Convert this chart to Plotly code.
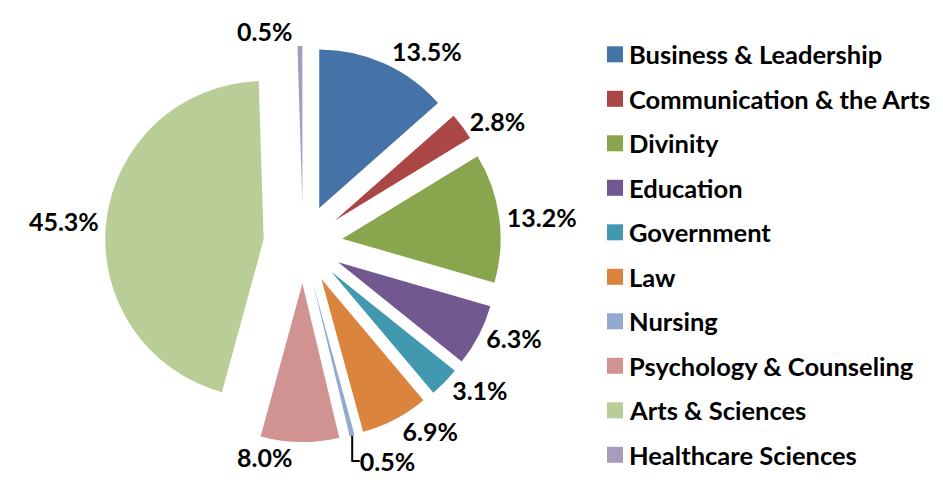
import plotly.graph_objects as go

# school enrollment share (percent)
schools = ["Business & Leadership", "Communication & the Arts", "Divinity", "Education",
           "Government", "Law", "Nursing", "Psychology & Counseling",
           "Arts & Sciences", "Healthcare Sciences"]
shares = [13.5, 2.8, 13.2, 6.3, 3.1, 6.9, 0.5, 8.0, 45.3, 0.5]
colors = ["#4572A7", "#AA4643", "#89A54E", "#71588F", "#4198AF",
          "#DB843D", "#93A9CF", "#D19392", "#B9CD96", "#A99BBD"]

W, H = 943, 487
fontname = "Lato, Calibri, sans-serif"
# the page body has an 8px margin, so figure pixel = screen pixel - 8
OFF = 8
FW, FH = W - OFF, H - OFF

def px(x):
    return (x - OFF) / FW

def py(y):
    return 1 - (y - OFF) / FH

fig = go.Figure()
fig.add_trace(go.Pie(
    labels=schools,
    values=shares,
    sort=False,
    direction="clockwise",
    rotation=0,
    pull=[0.25] * len(shares),
    marker=dict(colors=colors, line=dict(width=0)),
    texttemplate="%{percent:.1%}",
    textposition="outside",
    outsidetextfont=dict(family=fontname, size=25, color="black", weight="bold"),
    domain=dict(x=[px(105), px(501)], y=[py(442), py(46)]),
    showlegend=False,
    hoverinfo="label+percent",
))

# legend drawn by hand: plotly's own legend can't be spaced like the original
# without pushing the margins and shrinking the pie
row0, step = 54.3, 44.5
for i, (name, c) in enumerate(zip(schools, colors)):
    yc = row0 + step * i
    fig.add_shape(type="rect", xref="paper", yref="paper",
                  x0=px(607), x1=px(623), y0=py(yc + 8), y1=py(yc - 8),
                  fillcolor=c, line=dict(width=0))
    fig.add_annotation(text=name, xref="paper", yref="paper",
                       x=px(627), y=py(yc), xanchor="left", yanchor="middle",
                       showarrow=False,
                       font=dict(family=fontname, size=25.5, color="black", weight="bold"))

fig.update_layout(
    width=FW, height=FH,
    autosize=False,
    margin=dict(l=0, r=0, t=0, b=0, pad=0, autoexpand=False),
    paper_bgcolor="white", plot_bgcolor="white",
    showlegend=False,
)

fig.write_html("out.html")
